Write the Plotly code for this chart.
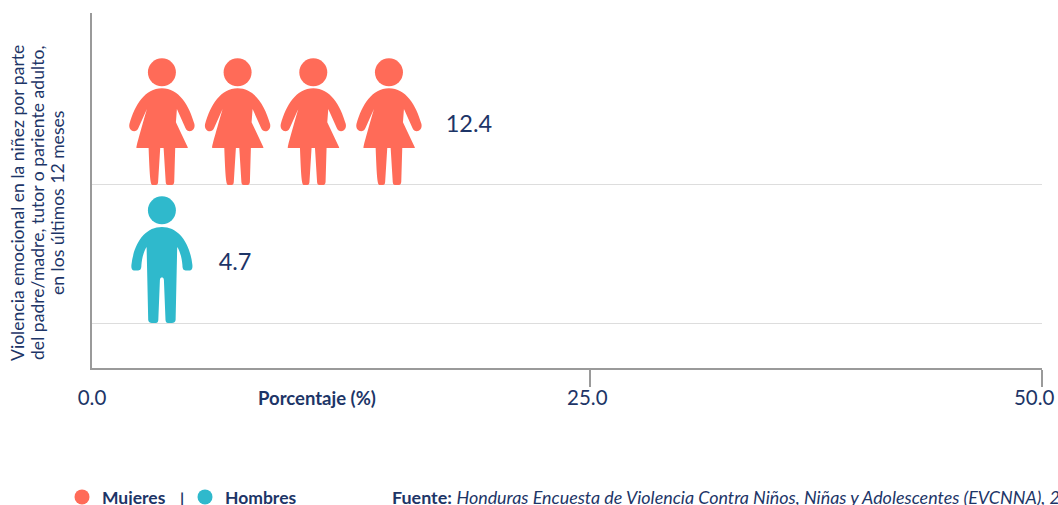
import plotly.graph_objects as go

# ---- data ----
categories = ["Hombres", "Mujeres"]
series_names = ["Mujeres", "Hombres"]
mujeres_value = 12.4
hombres_value = 4.7
mujeres_icons = 4
hombres_icons = 1
x_tick_labels = ["0.0", "25.0", "50.0"]
y_title_lines = [
    "Violencia emocional en la niñez por parte",
    "del padre/madre, tutor o pariente adulto,",
    "en los últimos 12 meses",
]
source_bold = "Fuente:"
source_text = "Honduras Encuesta de Violencia Contra Niños, Niñas y Adolescentes (EVCNNA), 2017"

# ---- style / layout ----
FONT = "Lato"
NAVY = "#1d3567"
CORAL = "#ff6b58"
TEAL = "#2fb9cc"
AXIS = "#9a9a9a"
GRID = "#dddddd"
W, H = 1058, 505
ML, MR, MT, MB = 92, 16, 13, 137
PLOT_W, PLOT_H = W - ML - MR, H - MT - MB
X_TOP = 47.7             # the printed 50.0 tick sits at the plot's right end
ICON_START = 3.51
ICON_STEP = 3.8
LABEL_GAP = 2.85
LABEL_Y = 0.43
NBSP = "\u00a0"


def mirror(left):
    """Build a closed, symmetric SVG path from the left half given as (cmd, pts)."""
    d = []
    for cmd, pts in left:
        d.append(cmd + " " + " ".join(f"{x:.1f},{y:.1f}" for x, y in pts))
    segs = []
    cur = None
    for cmd, pts in left:
        if cmd == "M":
            cur = pts[0]
        elif cmd == "C":
            segs.append((cmd, [cur] + pts))
            cur = pts[-1]
        else:
            for p in pts:
                segs.append((cmd, [cur, p]))
                cur = p
    right = []
    for cmd, pts in reversed(segs):
        rp = [(-x, y) for x, y in reversed(pts)][1:]
        right.append(cmd + " " + " ".join(f"{x:.1f},{y:.1f}" for x, y in rp))
    return " ".join(d + right) + " Z"


WOMAN = mirror([
    ("M", [(0, 96.7)]),
    ("C", [(-17, 96.7), (-27, 80), (-32.5, 61)]),
    ("C", [(-34, 54), (-26, 51), (-23.5, 57)]),
    ("L", [(-15, 76), (-14, 62.7), (-25.7, 38)]),
    ("C", [(-26.2, 37.2), (-26, 37), (-25, 37)]),
    ("L", [(-13.3, 37), (-12.3, 3)]),
    ("C", [(-12, 0.5), (-11, 0), (-9, 0)]),
    ("L", [(-6, 0)]),
    ("C", [(-4.5, 0), (-4, 1), (-3.8, 3)]),
    ("L", [(-1.7, 37), (0, 37)]),
])
MAN = mirror([
    ("M", [(0, 96)]),
    ("C", [(-17, 96), (-28, 80), (-30.5, 58)]),
    ("C", [(-31, 52), (-28, 52.5), (-25.5, 52.5)]),
    ("C", [(-23, 52.5), (-20.5, 52), (-20.5, 58)]),
    ("C", [(-20, 65), (-18, 72), (-15.3, 76)]),
    ("L", [(-13.7, 3)]),
    ("C", [(-13.5, 1), (-12, 0), (-10, 0)]),
    ("L", [(-6, 0)]),
    ("C", [(-4.5, 0), (-3.8, 1), (-3.6, 3)]),
    ("L", [(-2, 43)]),
    ("C", [(-1.8, 45), (-1, 45.5), (0, 45.5)]),
])
HEAD_R = 14
HEAD_C = 112.7


def icon_shapes(path, x, y, color):
    common = dict(xref="x", yref="y", xsizemode="pixel", ysizemode="pixel",
                  xanchor=x, yanchor=y, fillcolor=color, line_width=0, layer="above")
    return [
        dict(type="path", path=path, **common),
        dict(type="circle", x0=-HEAD_R, x1=HEAD_R, y0=HEAD_C - HEAD_R, y1=HEAD_C + HEAD_R, **common),
    ]


shapes = []
rows = [
    ("Mujeres", 1, mujeres_value, mujeres_icons, WOMAN, CORAL),
    ("Hombres", 0, hombres_value, hombres_icons, MAN, TEAL),
]
fig = go.Figure()
for name, row, value, n, path, color in rows:
    for i in range(n):
        shapes += icon_shapes(path, ICON_START + i * ICON_STEP, row, color)
    fig.add_trace(go.Scatter(
        x=[ICON_START + (n - 1) * ICON_STEP + LABEL_GAP], y=[row + LABEL_Y],
        mode="text", text=[f"{value:.1f}"], textposition="middle right",
        textfont=dict(family=FONT, size=23.5, color=NAVY),
        showlegend=False, hoverinfo="skip",
    ))
    fig.add_trace(go.Scatter(
        x=[None], y=[None], mode="markers", name=name,
        marker=dict(color=color, size=15, symbol="circle"),
    ))


def py(pixel_y):
    return (H - MB - pixel_y) / PLOT_H


def px(pixel_x):
    return (pixel_x - ML) / PLOT_W


annotations = [
    dict(text=line, xref="paper", yref="paper", x=px(lx), y=py(203), xanchor="center", yanchor="middle",
         textangle=-90, showarrow=False, align="center",
         font=dict(family=FONT, size=17.6, color=NAVY))
    for line, lx in zip(y_title_lines, (18, 38, 58))
] + [
    dict(text="<b>Porcentaje (%)</b>", xref="paper", yref="paper", x=px(317), y=py(398),
         xanchor="center", yanchor="middle", showarrow=False,
         font=dict(family=FONT, size=18.5, color=NAVY)),
    dict(text="<b>|</b>", xref="paper", yref="paper", x=px(182), y=py(497),
         xanchor="center", yanchor="middle", showarrow=False,
         font=dict(family=FONT, size=16, color=NAVY)),
    dict(text=f"<b>{source_bold}</b> <i>{source_text}</i>", xref="paper", yref="paper",
         x=px(390), y=py(497), xanchor="left", yanchor="middle", showarrow=False, align="left",
         font=dict(family=FONT, size=17.9, color=NAVY)),
]

fig.update_layout(
    width=W, height=H, autosize=False,
    margin=dict(l=ML, r=MR, t=MT, b=MB, pad=0, autoexpand=False),
    paper_bgcolor="white", plot_bgcolor="white",
    shapes=shapes, annotations=annotations,
    showlegend=True,
    legend=dict(orientation="h", x=px(62), y=py(479), xanchor="left", yanchor="top",
                font=dict(family=FONT, size=17.5, color=NAVY, weight="bold"),
                itemwidth=30, traceorder="normal", entrywidth=78, entrywidthmode="pixels",
                bgcolor="rgba(0,0,0,0)"),
    xaxis=dict(
        range=[0, X_TOP], tickmode="array",
        tickvals=[0, 25, X_TOP],
        ticktext=[x_tick_labels[0], x_tick_labels[1] + NBSP, x_tick_labels[2] + NBSP * 3],
        ticks="", showgrid=False, zeroline=False,
        showline=True, linecolor=AXIS, linewidth=1.5,
        ticklabelstandoff=11, ticklabeloverflow="allow",
        tickfont=dict(family=FONT, size=20.5, color=NAVY),
        minor=dict(tickmode="array", tickvals=[25, X_TOP], ticks="outside",
                   ticklen=17, tickwidth=1.5, tickcolor=AXIS, showgrid=False),
    ),
    yaxis=dict(
        range=[-0.326, 2.246], tickmode="array", tickvals=[0, 1], ticktext=["", ""],
        ticks="", showgrid=True, gridcolor=GRID, gridwidth=1, zeroline=False,
        showline=True, linecolor=AXIS, linewidth=1.5,
    ),
)

fig.write_html("out.html", config={"displayModeBar": False},
               post_script="document.body.style.margin='0';")
